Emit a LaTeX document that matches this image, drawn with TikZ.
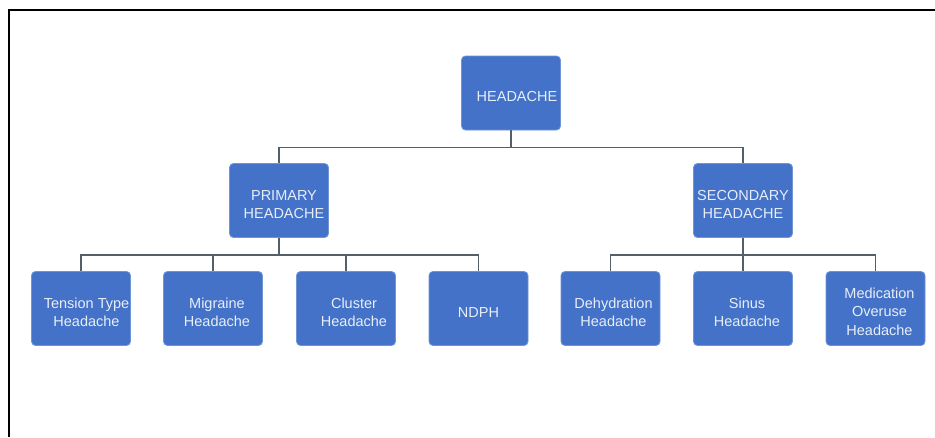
\documentclass[tikz,border=0pt]{standalone}
\usepackage{fontspec}
\setmainfont{Liberation Sans}
\begin{document}
\begin{tikzpicture}[x=1pt,y=-1pt,
  box/.style={draw=boxedge, fill=boxfill, rounded corners=4pt, line width=0.8pt,
    minimum width=99pt, minimum height=74pt, inner sep=0pt},
  lbl/.style={text=boxtext, font=\fontsize{14.5}{18.5}\selectfont, align=center, inner sep=0pt},
  conn/.style={draw=linegray, line width=1.4pt},
  frame/.style={draw=black, line width=1.3pt}]
\definecolor{boxfill}{RGB}{67,114,200}
\definecolor{boxedge}{RGB}{110,150,215}
\definecolor{boxtext}{RGB}{232,238,248}
\definecolor{linegray}{RGB}{85,95,105}
\useasboundingbox (0,0) rectangle (935,437);
\fill[white] (0,0) rectangle (935,437);
% frame
\coordinate (fa) at (9,437);
\coordinate (fb) at (9,10);
\coordinate (fc) at (935,10);
\draw[frame] (fa) -- (fb) -- (fc);
% boxes
\node[box] (h) at (511,93) {};
\node[box] (p) at (279,200.5) {};
\node[box] (s) at (743,200.5) {};
\node[box] (t1) at (81,308.5) {};
\node[box] (t2) at (213,308.5) {};
\node[box] (t3) at (346,308.5) {};
\node[box] (t4) at (478.5,308.5) {};
\node[box] (t5) at (610.5,308.5) {};
\node[box] (t6) at (743,308.5) {};
\node[box] (t7) at (875.5,308.5) {};
% labels
\node[lbl] (lh) at ([shift={(6,4)}]h.center) {HEADACHE};
\node[lbl] (lp) at ([shift={(5,4)}]p.center) {PRIMARY\\HEADACHE};
\node[lbl] (ls) at ([shift={(0,4)}]s.center) {SECONDARY\\HEADACHE};
\node[lbl] (l1) at ([shift={(5.5,4)}]t1.center) {Tension Type\\Headache};
\node[lbl] (l2) at ([shift={(4,4)}]t2.center) {Migraine\\Headache};
\node[lbl] (l3) at ([shift={(8,4)}]t3.center) {Cluster\\Headache};
\node[lbl] (l4) at ([shift={(0,4)}]t4.center) {NDPH};
\node[lbl] (l5) at ([shift={(3,4)}]t5.center) {Dehydration\\Headache};
\node[lbl] (l6) at ([shift={(4,4)}]t6.center) {Sinus\\Headache};
\node[lbl] (l7) at ([shift={(4,3)}]t7.center) {Medication\\Overuse\\Headache};
% connectors
\draw[conn] (h.south) -- ++(0,17) -| (p.north);
\draw[conn] (h.south) ++(0,17) -| (s.north);
\draw[conn] (p.south) -- ++(0,17) -| (t1.north);
\draw[conn] (p.south) ++(0,17) -| (t2.north);
\draw[conn] (p.south) ++(0,17) -| (t3.north);
\draw[conn] (p.south) ++(0,17) -| (t4.north);
\draw[conn] (s.south) -- (t6.north);
\draw[conn] (s.south) ++(0,17) -| (t5.north);
\draw[conn] (s.south) ++(0,17) -| (t7.north);
\end{tikzpicture}
\end{document}
